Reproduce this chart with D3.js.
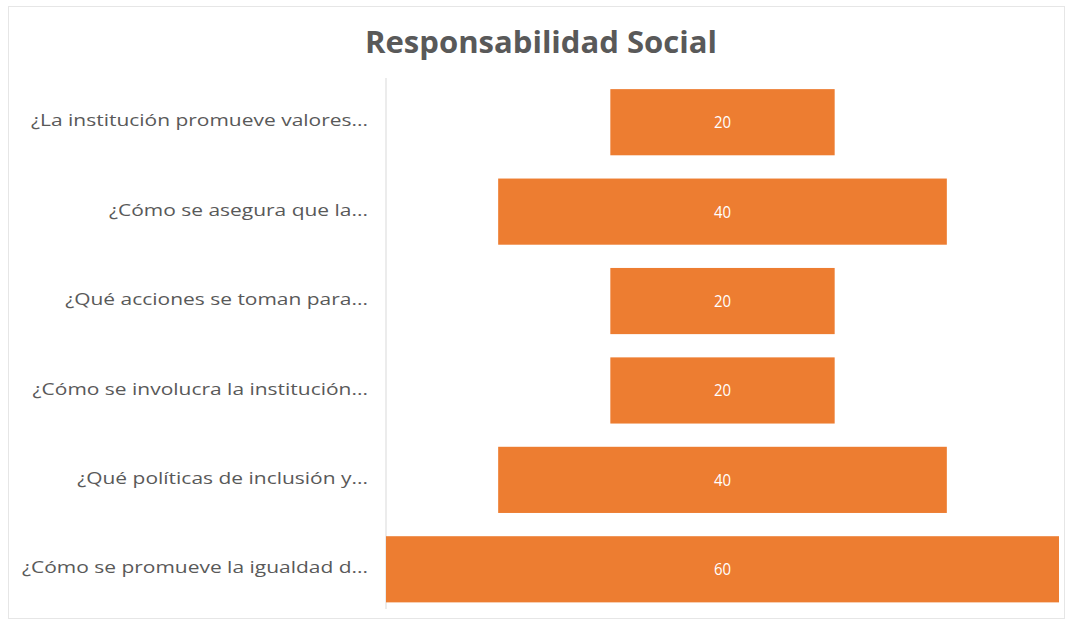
<!DOCTYPE html>
<html><head><meta charset="utf-8">
<script src="https://cdn.jsdelivr.net/npm/d3@7"></script>
<style>body{margin:0;background:#fff}svg{display:block}</style>
</head><body>
<svg id="c" width="1068" height="626"></svg>
<script>
const categories = [
  "¿La institución promueve valores...",
  "¿Cómo se asegura que la...",
  "¿Qué acciones se toman para...",
  "¿Cómo se involucra la institución...",
  "¿Qué políticas de inclusión y...",
  "¿Cómo se promueve la igualdad d..."
];
const values = [20, 40, 20, 20, 40, 60];
const title = "Responsabilidad Social";

const svg = d3.select("#c");
const font = "'Open Sans', 'Noto Sans', sans-serif";

svg.append("rect").attr("x", 8.5).attr("y", 6.5).attr("width", 1056).attr("height", 612)
  .attr("fill", "#fff").attr("stroke", "#e6e6e6");

const left = 386, right = 1059;
const y = d3.scaleBand().domain(categories).range([77.5, 614]).paddingInner(0.26).paddingOuter(0.13);
const w = d3.scaleLinear().domain([0, 60]).range([0, right - left]);
const cx = (left + right) / 2;

svg.append("text").attr("x", 541).attr("y", 53).attr("text-anchor", "middle")
  .attr("font-family", font).attr("font-weight", "bold").attr("font-size", 30)
  .attr("fill", "#595959").attr("textLength", 352).attr("lengthAdjust", "spacingAndGlyphs").text(title);

svg.append("line").attr("x1", left).attr("x2", left).attr("y1", 78).attr("y2", 609)
  .attr("stroke", "#d9d9d9").attr("stroke-width", 1);

const g = svg.append("g");
g.selectAll("rect.bar").data(values).join("rect").attr("class", "bar")
  .attr("x", d => cx - w(d) / 2).attr("width", d => w(d))
  .attr("y", (d, i) => y(categories[i])).attr("height", y.bandwidth())
  .attr("fill", "#ED7D31");

g.selectAll("text.val").data(values).join("text").attr("class", "val")
  .attr("x", cx).attr("y", (d, i) => y(categories[i]) + y.bandwidth() / 2)
  .attr("dy", "0.35em").attr("text-anchor", "middle")
  .attr("font-family", font).attr("font-size", 17).attr("fill", "#fff")
  .attr("transform", (d, i) => `translate(${cx},0) scale(0.88,1) translate(${-cx},0)`)
  .text(d => d);

const yAxis = d3.axisLeft(y).tickSize(0).tickPadding(18);
const ax = svg.append("g").attr("transform", `translate(${left},0)`).call(yAxis);
ax.select(".domain").remove();
ax.selectAll("text").attr("font-family", font).attr("font-size", 16.5).attr("fill", "#595959")
  .attr("dy", "0.25em")
  .each(function(){
    const len = this.getComputedTextLength();
    d3.select(this).attr("textLength", len * 1.27).attr("lengthAdjust", "spacingAndGlyphs");
  });
</script>
</body></html>
